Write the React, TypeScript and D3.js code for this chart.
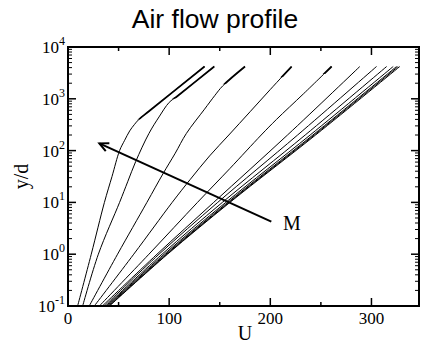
import React from "react";
import * as d3 from "d3";

// ---- data (U vs y/d) ----
const c1U = [9.5, 23, 36, 43.5, 51, 56, 61, 65.5, 70, 80, 135];
const c1Y = [0.1, 1, 10, 31.6, 100, 158, 240, 316, 398, 575, 4200];
const c2U = [14.5, 30, 51, 59, 67, 80, 90, 100, 108, 144.6];
const c2Y = [0.1, 1, 10, 25, 62, 214, 447, 851, 1122, 4200];
const c3U = [21, 49, 78, 94, 106, 117, 135, 145, 153, 175];
const c3Y = [0.1, 1, 10, 36, 89, 214, 631, 1148, 1778, 4200];
const c4U = [26, 65, 103, 121, 140, 159, 180, 200, 221];
const c4Y = [0.1, 1, 10, 28, 79, 200, 562, 1514, 4200];
const c5U = [31, 80, 128, 160, 191, 206, 233, 260.6];
const c5Y = [0.1, 1, 10, 45, 200, 398, 1259, 4200];
const c6U = [34, 88, 144, 217, 288.5];
const c6Y = [0.1, 1, 10, 200, 4200];
const c7U = [36, 90, 148, 227, 305];
const c7Y = [0.1, 1, 10, 200, 4200];
const c8U = [37.5, 93, 152.6, 234.5, 315];
const c9U = [38.5, 95.1, 156, 239.4, 321.5];
const c10U = [39.5, 96.6, 157.9, 242.1, 324.8];
const c11U = [40.5, 97.7, 159.2, 243.5, 326.4];
const c12U = [41, 98.4, 160.1, 244.8, 328];
const bundleY = [0.1, 1, 10, 200, 4200];

const curves = [
  { u: c1U, y: c1Y, thickFrom: 398 },
  { u: c2U, y: c2Y, thickFrom: 1000 },
  { u: c3U, y: c3Y, thickFrom: 1900 },
  { u: c4U, y: c4Y, thickFrom: 2600 },
  { u: c5U, y: c5Y, thickFrom: 3000 },
  { u: c6U, y: c6Y, thickFrom: 0 },
  { u: c7U, y: c7Y, thickFrom: 0 },
  { u: c8U, y: bundleY, thickFrom: 0 },
  { u: c9U, y: bundleY, thickFrom: 0 },
  { u: c10U, y: bundleY, thickFrom: 0 },
  { u: c11U, y: bundleY, thickFrom: 0 },
  { u: c12U, y: bundleY, thickFrom: 0 },
];

const xTicksMajor = [0, 100, 200, 300];
const xTicksMinor = [50, 150, 250];
const yDecades = [-1, 0, 1, 2, 3, 4];

const arrowFrom = [201, 4.24];
const arrowTo = [31, 138];
const labelM = [212.5, 2.93];

const W = 421;
const H = 344;
const L = 68, R = 419, T = 47, B = 306;

export default function App() {
  const x = d3.scaleLinear().domain([0, 347]).range([L, R]);
  const y = d3.scaleLog().domain([0.1, 10000]).range([B, T]);
  const line = d3
    .line<[number, number]>()
    .x((d) => x(d[0]))
    .y((d) => y(d[1]))
    .curve(d3.curveCatmullRom.alpha(0.5));

  const defs: JSX.Element[] = [];
  const paths: JSX.Element[] = [];
  curves.forEach((c, i) => {
    const pts: [number, number][] = c.u.map((u, k) => [u, c.y[k]]);
    const d = line(pts) || "";
    paths.push(<path key={"c" + i} d={d} fill="none" stroke="#000" strokeWidth={1} />);
    if (c.thickFrom > 0) {
      const yy = y(c.thickFrom);
      defs.push(
        <clipPath id={"clip" + i} key={"cp" + i}>
          <rect x={0} y={0} width={W} height={yy} />
        </clipPath>
      );
      paths.push(
        <path
          key={"t" + i}
          d={d}
          fill="none"
          stroke="#000"
          strokeWidth={1.8}
          clipPath={`url(#clip${i})`}
        />
      );
    }
  });

  const minorY: number[] = [];
  for (let d = -1; d < 4; d++) for (let k = 2; k <= 9; k++) minorY.push(k * Math.pow(10, d));

  const ax1 = x(arrowFrom[0]), ay1 = y(arrowFrom[1]);
  const ax2 = x(arrowTo[0]), ay2 = y(arrowTo[1]);
  const ang = Math.atan2(ay1 - ay2, ax1 - ax2);
  const hl = 10, ha = 0.45;
  const h1 = [ax2 + hl * Math.cos(ang + ha), ay2 + hl * Math.sin(ang + ha)];
  const h2 = [ax2 + hl * Math.cos(ang - ha), ay2 + hl * Math.sin(ang - ha)];

  const serif = "'Liberation Serif', 'DejaVu Serif', serif";

  return (
    <svg
      width={W}
      height={H}
      style={{ position: "absolute", left: 0, top: 0, background: "#fff" }}
    >
      <defs>{defs}</defs>
      <rect x={0} y={0} width={W} height={H} fill="#fff" />
      <text
        x={215}
        y={28}
        textAnchor="middle"
        fontFamily="'Liberation Sans', Arial, sans-serif"
        fontSize={26.5}
      >
        Air flow profile
      </text>

      <g>{paths}</g>

      {/* arrow */}
      <line x1={ax1} y1={ay1} x2={ax2} y2={ay2} stroke="#000" strokeWidth={2} />
      <polyline
        points={`${h1[0]},${h1[1]} ${ax2},${ay2} ${h2[0]},${h2[1]}`}
        fill="none"
        stroke="#000"
        strokeWidth={2}
      />
      <text x={x(labelM[0])} y={y(labelM[1])} fontFamily={serif} fontSize={20}>
        M
      </text>

      {/* ticks */}
      {xTicksMajor.map((t) => (
        <g key={"xm" + t}>
          <line x1={x(t)} x2={x(t)} y1={B} y2={B - 8} stroke="#000" strokeWidth={1.5} />
          <line x1={x(t)} x2={x(t)} y1={T} y2={T + 8} stroke="#000" strokeWidth={1.5} />
          <text x={x(t)} y={B + 18} textAnchor="middle" fontFamily={serif} fontSize={17}>
            {t}
          </text>
        </g>
      ))}
      {xTicksMinor.map((t) => (
        <g key={"xn" + t}>
          <line x1={x(t)} x2={x(t)} y1={B} y2={B - 4} stroke="#000" strokeWidth={1.5} />
          <line x1={x(t)} x2={x(t)} y1={T} y2={T + 4} stroke="#000" strokeWidth={1.5} />
        </g>
      ))}
      {yDecades.map((d) => {
        const v = Math.pow(10, d);
        return (
          <g key={"yd" + d}>
            <line x1={L} x2={L + 8} y1={y(v)} y2={y(v)} stroke="#000" strokeWidth={1.5} />
            <line x1={R} x2={R - 8} y1={y(v)} y2={y(v)} stroke="#000" strokeWidth={1.5} />
            <text x={65} y={y(v) + 6} textAnchor="end" fontFamily={serif} fontSize={17}>
              10
              <tspan dy={-8} fontSize={12}>
                {d}
              </tspan>
            </text>
          </g>
        );
      })}
      {minorY.map((v, i) => (
        <g key={"yn" + i}>
          <line x1={L} x2={L + 4} y1={y(v)} y2={y(v)} stroke="#000" strokeWidth={1} />
          <line x1={R} x2={R - 4} y1={y(v)} y2={y(v)} stroke="#000" strokeWidth={1} />
        </g>
      ))}

      <rect x={L} y={T} width={R - L} height={B - T} fill="none" stroke="#000" strokeWidth={2} />

      <text x={245} y={340} textAnchor="middle" fontFamily={serif} fontSize={20}>
        U
      </text>
      <text
        transform={`translate(28,${(T + B) / 2}) rotate(-90)`}
        textAnchor="middle"
        fontFamily={serif}
        fontSize={20}
      >
        y/d
      </text>
    </svg>
  );
}
